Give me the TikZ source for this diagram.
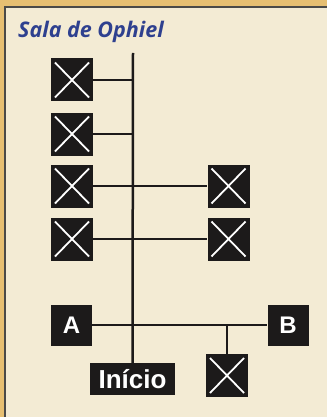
\documentclass[tikz,border=0pt]{standalone}
\usepackage{fontspec}
\setmainfont{Liberation Sans}
\newfontfamily\titlefont{Open Sans}
\definecolor{cream}{HTML}{F3EBD4}
\definecolor{gold}{HTML}{E6BF72}
\definecolor{framegray}{HTML}{4A4A48}
\definecolor{boxblack}{HTML}{1C1A1A}
\definecolor{titleblue}{HTML}{2E408F}
\tikzset{
  conn/.style={line width=2.5pt, draw=boxblack},
  xbox/.style={fill=boxblack, draw=none, minimum width=42pt, minimum height=43pt, inner sep=0pt,
    path picture={
      \draw[white, line width=1.8pt]
        ([shift={(4pt,-4pt)}]path picture bounding box.north west) --
        ([shift={(-4pt,4pt)}]path picture bounding box.south east);
      \draw[white, line width=1.8pt]
        ([shift={(-4pt,-4pt)}]path picture bounding box.north east) --
        ([shift={(4pt,4pt)}]path picture bounding box.south west);
    }},
  lbox/.style={fill=boxblack, draw=none, text=white, font=\bfseries\fontsize{24}{24}\selectfont,
    minimum width=41pt, minimum height=41pt, inner sep=0pt},
}
\begin{document}
\begin{tikzpicture}[x=1pt,y=-1pt]
\useasboundingbox (0,0) rectangle (327,417);
\fill[gold] (0,0) rectangle (327,417);
\fill[cream] (4,6) rectangle (327,417);
\draw[framegray, line width=1.6pt] (4.8,417) -- (4.8,6.8) -- (327,6.8);
\node[anchor=base west, text=titleblue, inner sep=0pt, font=\titlefont\bfseries\itshape\fontsize{21.5}{21.5}\selectfont] (title) at (18,37.5) {Sala de Ophiel};
\coordinate (top) at (133,53);
\node[xbox] (b1) at (72,80) {};
\node[xbox] (b2) at (72,134) {};
\node[xbox] (b3) at (72,186) {};
\node[xbox] (r3) at (228.5,186) {};
\node[xbox] (b4) at (72,239) {};
\node[xbox] (r4) at (228.5,239) {};
\node[lbox] (A) at (71.5,325) {A};
\node[lbox] (B) at (288,325) {B};
\node[xbox] (bx) at (227,375.5) {};
\node[fill=boxblack, text=white, font=\bfseries\fontsize{26}{26}\selectfont, minimum width=85pt, minimum height=32pt, inner sep=0pt] (inicio) at (132.5,379) {Início};
\draw[conn] (top) -- (inicio.north);
\draw[conn] (b1.east) -- (b1.east -| top);
\draw[conn] (b2.east) -- (b2.east -| top);
\draw[conn] (b3.east) -- (r3.west);
\draw[conn] (b4.east) -- (r4.west);
\draw[conn] (A.east) -- (B.west);
\draw[conn] (bx.north) -- (bx.north |- A.east);
\end{tikzpicture}
\end{document}
